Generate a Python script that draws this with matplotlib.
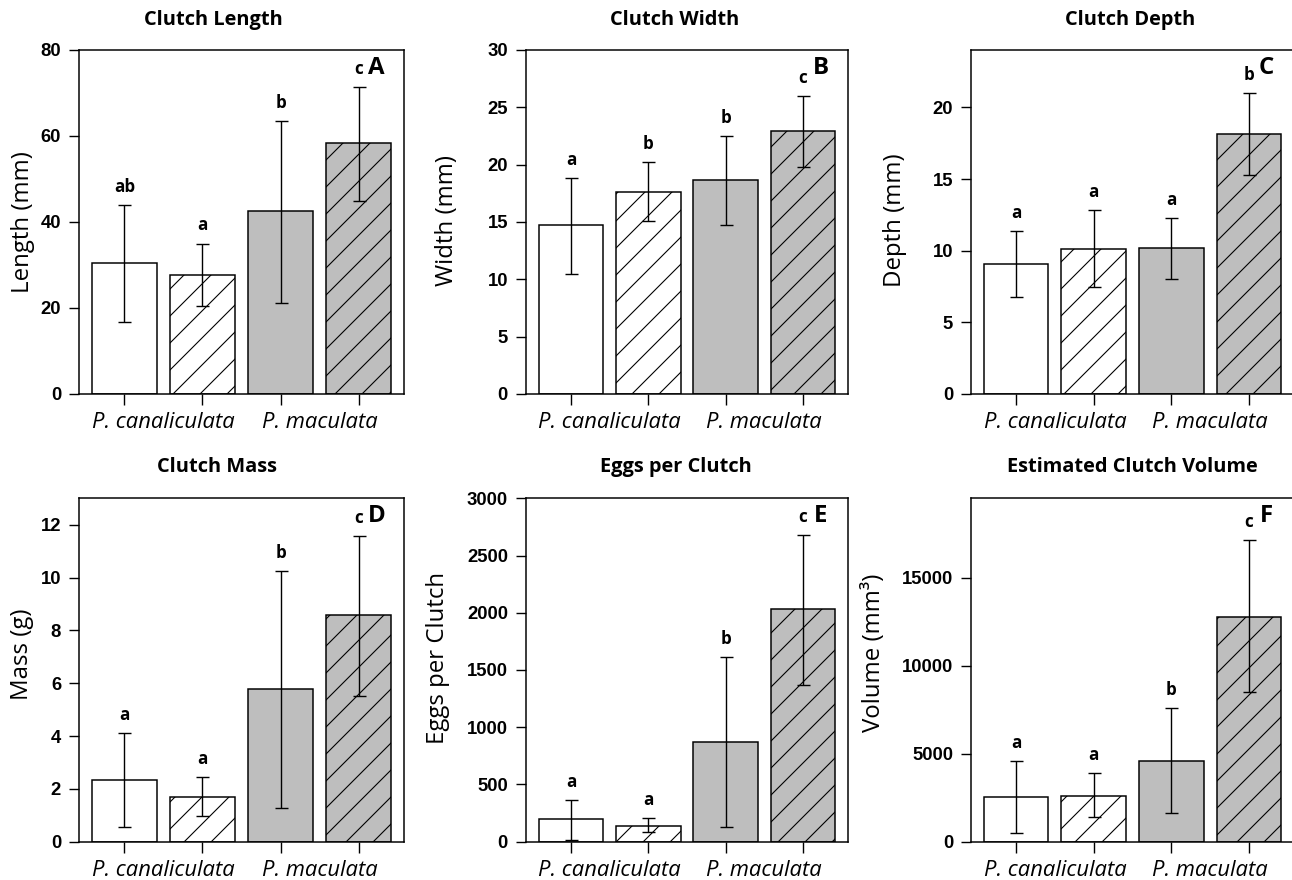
import numpy as np
import matplotlib
matplotlib.use("Agg")
import matplotlib.pyplot as plt

# figure geometry (work in pixels, convert to points)
# dpi 81 makes the '/' hatch spacing match the reference (~27 px)
DPI = 81
W, H = 1292, 880
K = 72.0 / DPI

# --- DATA ---
groups = ['P. canaliculata', 'P. maculata']
titles = ['Clutch Length', 'Clutch Width', 'Clutch Depth',
          'Clutch Mass', 'Eggs per Clutch', 'Estimated Clutch Volume']
ylabels = ['Length (mm)', 'Width (mm)', 'Depth (mm)',
           'Mass (g)', 'Eggs per Clutch', 'Volume (mm³)']
panel_tags = ['A', 'B', 'C', 'D', 'E', 'F']

length_mean = [30.4, 27.7, 42.6, 58.3]
length_lo = [16.7, 20.5, 21.1, 45.0]
length_hi = [44.0, 35.0, 63.5, 71.5]
length_sig = ['ab', 'a', 'b', 'c']

width_mean = [14.7, 17.6, 18.7, 22.9]
width_lo = [10.5, 15.1, 14.7, 19.8]
width_hi = [18.8, 20.2, 22.5, 26.0]
width_sig = ['a', 'b', 'b', 'c']

depth_mean = [9.1, 10.1, 10.2, 18.15]
depth_lo = [6.8, 7.45, 8.0, 15.3]
depth_hi = [11.4, 12.85, 12.3, 21.0]
depth_sig = ['a', 'a', 'a', 'b']

mass_mean = [2.34, 1.68, 5.77, 8.59]
mass_lo = [0.55, 0.96, 1.27, 5.52]
mass_hi = [4.13, 2.45, 10.26, 11.58]
mass_sig = ['a', 'a', 'b', 'c']

eggs_mean = [198, 140, 874, 2034]
eggs_lo = [15, 87, 126, 1370]
eggs_hi = [362, 205, 1617, 2681]
eggs_sig = ['a', 'a', 'b', 'c']

volume_mean = [2520, 2610, 4590, 12770]
volume_lo = [480, 1420, 1610, 8520]
volume_hi = [4590, 3890, 7580, 17120]
volume_sig = ['a', 'a', 'b', 'c']

ytop = [80, 30, 24, 13, 3000, 19500]
yticks = [np.arange(0, 81, 20), np.arange(0, 31, 5), np.arange(0, 21, 5),
          np.arange(0, 13, 2), np.arange(0, 3001, 500), np.arange(0, 15001, 5000)]

# --- STYLE / LAYOUT ---
fills = ['white', 'white', '#bebebe', '#bebebe']
hatches = [None, '/', None, '/']
cols_px = [(79, 404), (526, 848), (971, 1294)]
rows_px = [(50, 394), (498.3, 841.7)]
title_px = [(213.5, 20), (675, 20), (1130, 20),
            (217, 467), (676, 467), (1132.5, 467)]
ylabel_px = [(23, 222), (447, 220), (895, 220),
             (22, 654), (438, 658), (874, 653)]

plt.rcParams['font.family'] = ['Open Sans', 'DejaVu Sans']
plt.rcParams['hatch.linewidth'] = 1.1 * K
plt.rcParams['hatch.color'] = 'black'

means = [length_mean, width_mean, depth_mean, mass_mean, eggs_mean, volume_mean]
lows = [length_lo, width_lo, depth_lo, mass_lo, eggs_lo, volume_lo]
highs = [length_hi, width_hi, depth_hi, mass_hi, eggs_hi, volume_hi]
sigs = [length_sig, width_sig, depth_sig, mass_sig, eggs_sig, volume_sig]

fig = plt.figure(figsize=(W / DPI, H / DPI), dpi=DPI)
x = np.arange(4)

for i in range(6):
    l, r = cols_px[i % 3]
    t, b = rows_px[i // 3]
    ax = fig.add_axes([l / W, 1 - b / H, (r - l) / W, (b - t) / H])

    m = np.array(means[i])
    lo = np.array(lows[i])
    hi = np.array(highs[i])

    bars = ax.bar(x, m, width=0.833, color=fills, edgecolor='black',
                  linewidth=1.5 * K, zorder=2)
    for p, h in zip(bars, hatches):
        if h:
            p.set_hatch(h)
    ax.errorbar(x, m, yerr=[m - lo, hi - m], fmt='none', ecolor='black',
                elinewidth=1.4 * K, capsize=6.5 * K, capthick=1.4 * K, zorder=3)

    for xi, yi, s in zip(x, hi, sigs[i]):
        ax.annotate(s, (xi, yi), xytext=(0, 13 * K), textcoords='offset points',
                    ha='center', va='baseline', fontsize=17 * K, fontweight='bold')
    ax.text(0.915, 0.948, panel_tags[i], transform=ax.transAxes, ha='center',
            va='center', fontsize=24 * K, fontweight='bold')

    ax.set_xlim(-0.583, 3.583)
    ax.set_ylim(0, ytop[i])
    ax.set_xticks(x)
    ax.set_xticklabels([''] * 4)
    ax.set_xticks([0.5, 2.5], minor=True)
    ax.set_xticklabels(groups, minor=True, style='italic', fontsize=22 * K)
    ax.tick_params(axis='x', which='major', length=11 * K, width=1.4 * K)
    ax.tick_params(axis='x', which='minor', length=0, pad=18 * K)
    ax.set_yticks(yticks[i])
    ax.set_yticklabels([str(v) for v in yticks[i]], family='Liberation Sans',
                       fontweight='bold', fontsize=18.5 * K)
    ax.tick_params(axis='y', length=10 * K, width=1.4 * K, pad=8 * K)
    for sp in ax.spines.values():
        sp.set_linewidth(1.5 * K)

    fig.text(title_px[i][0] / W, 1 - title_px[i][1] / H, titles[i],
             ha='center', va='center', fontsize=20 * K, fontweight='bold')
    fig.text(ylabel_px[i][0] / W, 1 - ylabel_px[i][1] / H, ylabels[i],
             ha='center', va='center', rotation=90, fontsize=24 * K)

fig.savefig('out.png', dpi=DPI, facecolor='white')
